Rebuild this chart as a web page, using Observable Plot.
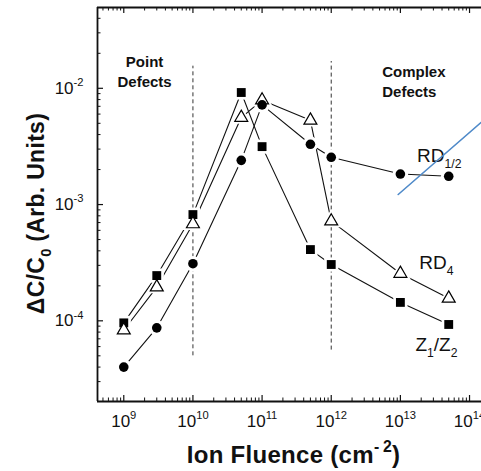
<!DOCTYPE html>
<html>
<head>
<meta charset="utf-8">
<script src="https://cdn.jsdelivr.net/npm/d3@7"></script>
<script src="https://cdn.jsdelivr.net/npm/@observablehq/plot@0.6"></script>
<style>
  html, body { margin: 0; padding: 0; background: #fff; }
  #chart svg { display: block; }
</style>
</head>
<body>
<div id="chart"></div>
<script>
// Ion fluence (cm^-2) at which each sample was measured
const fluence = [1e9, 3e9, 1e10, 5e10, 1e11, 5e11, 1e12, 1e13, 5e13];

// Relative change ΔC/C0 for each figure of merit
const z1z2   = [9.6e-5, 2.45e-4, 8.2e-4, 9.2e-3, 3.15e-3, 4.1e-4, 3.05e-4, 1.44e-4, 9.3e-5];
const rd4    = [8.3e-5, 1.95e-4, 6.8e-4, 5.6e-3, 7.9e-3, 5.3e-3, 7.2e-4, 2.55e-4, 1.56e-4];
const rdHalf = [4.0e-5, 8.7e-5, 3.1e-4, 2.4e-3, 7.2e-3, 3.3e-3, 2.55e-3, 1.83e-3, 1.75e-3];

// Decade exponents that carry a labelled tick
const xTickExponents = [9, 10, 11, 12, 13, 14];
const yTickExponents = [-4, -3, -2];
const minorMultipliers = [2, 3, 4, 5, 6, 7, 8, 9];

// Boundaries between the point-defect and complex-defect regimes
const regimeBounds = [
  {x: 1e10, y1: 5.0e-5, y2: 1.55e-2},
  {x: 1e12, y1: 5.6e-5, y2: 1.7e-2}
];

// Region and curve annotations (markup: _{sub}, ^{sup})
const regionLabels = [
  {x: 2e9,    y: 1.02e-2, text: "Point\nDefects", anchor: "middle"},
  {x: 5.46e12, y: 8.5e-3, text: "Complex\nDefects", anchor: "start"}
];
const curveLabels = [
  {x: 1.74e13, y: 2.31e-3, text: "RD_{1/2}"},
  {x: 1.88e13, y: 2.77e-4, text: "RD_{4}"},
  {x: 1.65e13, y: 5.5e-5,  text: "Z_{1}/Z_{2}"}
];

// Straight guide line drawn across the right-hand side
const guideLine = [
  {x: 9.3e12, y: 1.22e-3},
  {x: 2.5e14, y: 6.7e-3}
];

const series = [
  {name: "Z1/Z2",  values: z1z2,   symbol: "square",   r: 5.0, fill: "#000", stroke: "none"},
  {name: "RD4",    values: rd4,    symbol: "triangle", r: 4.8, fill: "#fff", stroke: "#000"},
  {name: "RD1/2",  values: rdHalf, symbol: "circle",   r: 4.8, fill: "#000", stroke: "none"}
];

const rows = series.flatMap(s => fluence.map((f, i) => ({series: s.name, fluence: f, value: s.values[i]})));

const W = 481, H = 471;
const margin = {top: 7, right: 0, bottom: 70, left: 97};
const frameW = W - margin.left - margin.right;
const frameH = H - margin.top - margin.bottom;
const xDomain = [10 ** 8.62, 10 ** 14.173];
const yDomain = [10 ** -4.694, 10 ** -1.305];

const inside = (v, [a, b]) => v >= a && v <= b;
const xMajor = xTickExponents.map(e => 10 ** e).filter(v => inside(v, xDomain));
const yMajor = yTickExponents.map(e => 10 ** e).filter(v => inside(v, yDomain));
const minorOf = (lo, hi, dom) => d3.range(lo, hi + 1).flatMap(e => minorMultipliers.map(m => m * 10 ** e)).filter(v => inside(v, dom));
const xMinor = minorOf(8, 14, xDomain);
const yMinor = minorOf(-5, -2, yDomain);

const ink = "#111";
const majorLen = 6, minorLen = 3.5;

const marks = [
  // regime boundaries
  Plot.ruleX(regimeBounds, {x: "x", y1: "y1", y2: "y2", stroke: "#333", strokeWidth: 1, strokeDasharray: "4,3"}),
  // connecting lines
  Plot.line(rows, {x: "fluence", y: "value", z: "series", stroke: ink, strokeWidth: 1.1})
];

// white halos open a small gap where the lines meet the markers
for (const s of series) {
  marks.push(Plot.dot(rows.filter(d => d.series === s.name), {
    x: "fluence", y: "value", symbol: s.symbol, r: s.r + 3, fill: "#fff", stroke: "none"
  }));
}
for (const s of series) {
  marks.push(Plot.dot(rows.filter(d => d.series === s.name), {
    x: "fluence", y: "value", symbol: s.symbol, r: s.r, fill: s.fill, stroke: s.stroke, strokeWidth: 1.2
  }));
}

marks.push(
  // inward ticks: bottom, top, left
  Plot.tickX(xMajor, {x: d => d, insetTop: frameH - majorLen, stroke: ink, strokeWidth: 1.2}),
  Plot.tickX(xMinor, {x: d => d, insetTop: frameH - minorLen, stroke: ink, strokeWidth: 1}),
  Plot.tickX(xMajor, {x: d => d, insetBottom: frameH - majorLen, stroke: ink, strokeWidth: 1.2}),
  Plot.tickX(xMinor, {x: d => d, insetBottom: frameH - minorLen, stroke: ink, strokeWidth: 1}),
  Plot.tickY(yMajor, {y: d => d, insetRight: frameW - majorLen, stroke: ink, strokeWidth: 1.2}),
  Plot.tickY(yMinor, {y: d => d, insetRight: frameW - minorLen, stroke: ink, strokeWidth: 1}),
  // axis lines
  Plot.ruleY([yDomain[0]], {stroke: ink, strokeWidth: 1.8}),
  Plot.ruleY([yDomain[1]], {stroke: ink, strokeWidth: 1.8}),
  Plot.ruleX([xDomain[0]], {stroke: ink, strokeWidth: 1.8}),
  // tick labels
  Plot.text(xMajor, {x: d => d, text: d => `10^{${Math.round(Math.log10(d))}}`, frameAnchor: "bottom",
    lineAnchor: "top", dy: 13, fontSize: 17, fill: ink}),
  Plot.text(yMajor, {y: d => d, text: d => `10^{${Math.round(Math.log10(d))}}`, frameAnchor: "left",
    textAnchor: "end", lineAnchor: "middle", dx: -14, fontSize: 17, fill: ink}),
  // axis titles
  Plot.text(["ΔC/C_{0} (Arb. Units)"], {text: d => d, frameAnchor: "left", rotate: -90, textAnchor: "middle",
    lineAnchor: "middle", dx: -61, dy: 9, fontSize: 23, fontWeight: "bold", fill: ink}),
  Plot.text(["Ion Fluence (cm^{-\u20092})"], {text: d => d, frameAnchor: "bottom", textAnchor: "middle",
    lineAnchor: "bottom", dx: 4, dy: 61, fontSize: 24, fontWeight: "bold", fill: ink}),
  // region annotations
  Plot.text(regionLabels.filter(d => d.anchor === "middle"), {x: "x", y: "y", text: "text", textAnchor: "middle",
    lineAnchor: "bottom", lineHeight: 1.33, fontSize: 15, fontWeight: "bold", fill: ink}),
  Plot.text(regionLabels.filter(d => d.anchor === "start"), {x: "x", y: "y", text: "text", textAnchor: "start",
    lineAnchor: "bottom", lineHeight: 1.33, fontSize: 15, fontWeight: "bold", fill: ink}),
  // curve labels
  Plot.text(curveLabels, {x: "x", y: "y", text: "text", textAnchor: "start", lineAnchor: "bottom",
    fontSize: 19, fill: ink}),
  // guide line
  Plot.line(guideLine, {x: "x", y: "y", stroke: "#4f8ac9", strokeWidth: 1.6, clip: true})
);

const chart = Plot.plot({
  width: W,
  height: H,
  marginTop: margin.top,
  marginRight: margin.right,
  marginBottom: margin.bottom,
  marginLeft: margin.left,
  style: {fontFamily: "'Liberation Sans', Arial, Helvetica, sans-serif", background: "#fff", color: ink},
  x: {type: "log", domain: xDomain, axis: null},
  y: {type: "log", domain: yDomain, axis: null},
  marks
});

document.getElementById("chart").appendChild(chart);

// Turn _{..} and ^{..} markup into subscript / superscript tspans
function richText(el) {
  const src = el.textContent;
  if (!/[_^]\{/.test(src)) return;
  const base = parseFloat(getComputedStyle(el).fontSize) || 16;
  const parts = [];
  const re = /([_^])\{([^}]*)\}/g;
  let last = 0, m;
  while ((m = re.exec(src))) {
    if (m.index > last) parts.push({t: src.slice(last, m.index), k: "n"});
    parts.push({t: m[2], k: m[1] === "^" ? "sup" : "sub"});
    last = re.lastIndex;
  }
  if (last < src.length) parts.push({t: src.slice(last), k: "n"});
  el.textContent = "";
  let offset = 0;
  for (const p of parts) {
    const ts = document.createElementNS("http://www.w3.org/2000/svg", "tspan");
    let target = 0;
    if (p.k === "sup") { target = -0.45 * base; ts.setAttribute("font-size", (0.66 * base).toFixed(1)); }
    if (p.k === "sub") { target = 0.32 * base; ts.setAttribute("font-size", (0.64 * base).toFixed(1)); }
    const dy = target - offset;
    if (dy) ts.setAttribute("dy", dy.toFixed(2));
    offset = target;
    ts.textContent = p.t;
    el.appendChild(ts);
  }
}
chart.querySelectorAll("text").forEach(richText);
// the bold axis titles run slightly wide
chart.querySelectorAll("text").forEach(t => {
  if (/Fluence|Arb\./.test(t.textContent)) t.setAttribute("letter-spacing", "0.3");
});
</script>
</body>
</html>
